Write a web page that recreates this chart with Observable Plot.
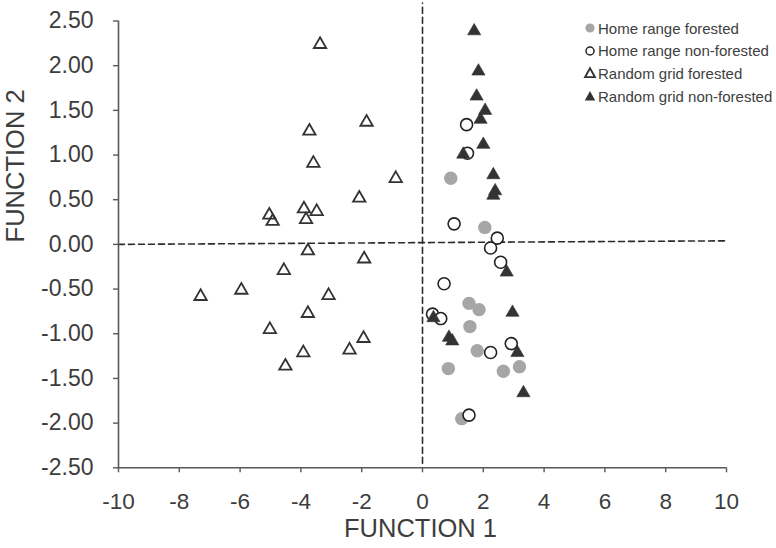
<!DOCTYPE html>
<html>
<head>
<meta charset="utf-8">
<script src="https://cdn.jsdelivr.net/npm/d3@7"></script>
<script src="https://cdn.jsdelivr.net/npm/@observablehq/plot@0.6"></script>
<style>
  body { margin: 0; background: #fff; }
  #wrap { position: relative; width: 776px; height: 548px; font-family: "Liberation Sans", Arial, sans-serif; }
  #legend { position: absolute; left: 583px; top: 17px; font-size: 15px; color: #404040; }
  #legend .row { display: flex; align-items: center; height: 22.6px; white-space: nowrap; }
  #legend svg { width: 14px; height: 14px; margin-right: 1px; flex: none; }
</style>
</head>
<body>
<div id="wrap"><div id="legend"></div></div>
<script>
// ---- data ----
const xTicks = [-10, -8, -6, -4, -2, 0, 2, 4, 6, 8, 10];
const yTicks = [-2.5, -2, -1.5, -1, -0.5, 0, 0.5, 1, 1.5, 2, 2.5];
const xTitle = "FUNCTION 1";
const yTitle = "FUNCTION 2";
const seriesNames = ["Home range forested", "Home range non-forested", "Random grid forested", "Random grid non-forested"];

const homeForested = [
  [0.93, 0.74], [2.05, 0.19], [1.53, -0.66], [1.86, -0.73], [1.56, -0.92],
  [1.80, -1.19], [0.85, -1.39], [2.66, -1.42], [3.19, -1.37], [1.29, -1.95]
];
const homeNonForested = [
  [1.45, 1.34], [1.48, 1.02], [1.04, 0.23], [2.46, 0.07], [2.24, -0.04], [2.57, -0.20],
  [0.71, -0.44], [0.33, -0.78], [0.60, -0.83], [2.92, -1.11], [2.24, -1.21], [1.53, -1.91]
];
const gridForested = [
  [-3.37, 2.26], [-1.84, 1.39], [-3.72, 1.29], [-3.59, 0.93], [-0.88, 0.76], [-2.08, 0.54],
  [-5.04, 0.35], [-4.93, 0.28], [-3.90, 0.42], [-3.48, 0.39], [-3.83, 0.30], [-3.77, -0.05],
  [-1.92, -0.14], [-4.56, -0.27], [-7.30, -0.56], [-5.96, -0.49], [-3.09, -0.55], [-3.77, -0.75],
  [-5.02, -0.93], [-1.94, -1.03], [-2.40, -1.16], [-3.92, -1.19], [-4.51, -1.34]
];
const gridNonForested = [
  [1.70, 2.41], [1.84, 1.96], [1.78, 1.68], [2.06, 1.52], [1.91, 1.42], [2.00, 1.14],
  [1.34, 1.03], [2.33, 0.80], [2.39, 0.62], [2.33, 0.57], [2.77, -0.29], [2.96, -0.74],
  [0.36, -0.80], [0.87, -1.02], [0.98, -1.06], [3.12, -1.19], [3.32, -1.64]
];
// reference (dashed) lines
const refVertical = [[0, -2.45], [0, 2.7]];
const refHorizontal = [[-10, 0], [10, 0.04]];

// ---- chart ----
const axisColor = "#595959";
const textColor = "#3d3d3d";
const font = '"Liberation Sans", Arial, sans-serif';

const chart = Plot.plot({
  width: 776,
  height: 548,
  marginLeft: 118,
  marginRight: 50,
  marginTop: 20.5,
  marginBottom: 80.7,
  style: { fontFamily: font, background: "white", overflow: "visible" },
  x: { domain: [xTicks[0], xTicks[xTicks.length - 1]] },
  y: { domain: [yTicks[0], yTicks[yTicks.length - 1]] },
  marks: [
    Plot.line(refVertical, { x: d => d[0], y: d => d[1], stroke: "#2b2b2b", strokeWidth: 1.6, strokeDasharray: "6,4" }),
    Plot.line(refHorizontal, { x: d => d[0], y: d => d[1], stroke: "#2b2b2b", strokeWidth: 1.6, strokeDasharray: "6,4" }),
    Plot.ruleX([xTicks[0]], { stroke: axisColor, strokeWidth: 1.6 }),
    Plot.ruleY([yTicks[0]], { stroke: axisColor, strokeWidth: 1.6 }),
    Plot.axisX(xTicks, { tickSize: 5, tickPadding: 20, fontSize: 22.5, tickFormat: d => String(d), label: null, stroke: axisColor, fill: textColor, strokeWidth: 1.4 }),
    Plot.axisY(yTicks, { tickSize: 5, tickPadding: 20, fontSize: 23, tickFormat: d => d.toFixed(2), label: null, stroke: axisColor, fill: textColor, strokeWidth: 1.4 }),
    Plot.text([xTitle], { frameAnchor: "bottom", dy: 69, dx: -2, fontSize: 25.5, fill: textColor, text: d => d }),
    Plot.text([yTitle], { frameAnchor: "left", dx: -103, dy: -2, rotate: -90, fontSize: 25.5, fill: textColor, text: d => d }),
    Plot.dot(homeForested, { x: d => d[0], y: d => d[1], r: 6.7, fill: "#a6a6a6" }),
    Plot.dot(homeNonForested, { x: d => d[0], y: d => d[1], r: 6, fill: "white", stroke: "#222", strokeWidth: 1.6 }),
    Plot.dot(gridForested, { x: d => d[0], y: d => d[1], symbol: "triangle", r: 4.6, fill: "none", stroke: "#333", strokeWidth: 1.8, dy: 2 }),
    Plot.dot(gridNonForested, { x: d => d[0], y: d => d[1], symbol: "triangle", r: 4.9, fill: "#333", stroke: "#333", strokeWidth: 0.6, dy: 2 })
  ]
});
document.getElementById("wrap").prepend(chart);

// ---- legend ----
const legendSymbols = [
  '<circle cx="7" cy="7" r="4.6" fill="#a6a6a6"/>',
  '<circle cx="7" cy="7" r="4" fill="white" stroke="#222" stroke-width="1.5"/>',
  '<polygon points="7,2.2 12,11.2 2,11.2" fill="none" stroke="#333" stroke-width="1.8" stroke-linejoin="miter"/>',
  '<polygon points="7,2 12.2,11.4 1.8,11.4" fill="#333"/>'
];
const legend = document.getElementById("legend");
seriesNames.forEach((name, i) => {
  const row = document.createElement("div");
  row.className = "row";
  row.innerHTML = `<svg viewBox="0 0 14 14">${legendSymbols[i]}</svg><span>${name}</span>`;
  legend.appendChild(row);
});
</script>
</body>
</html>
